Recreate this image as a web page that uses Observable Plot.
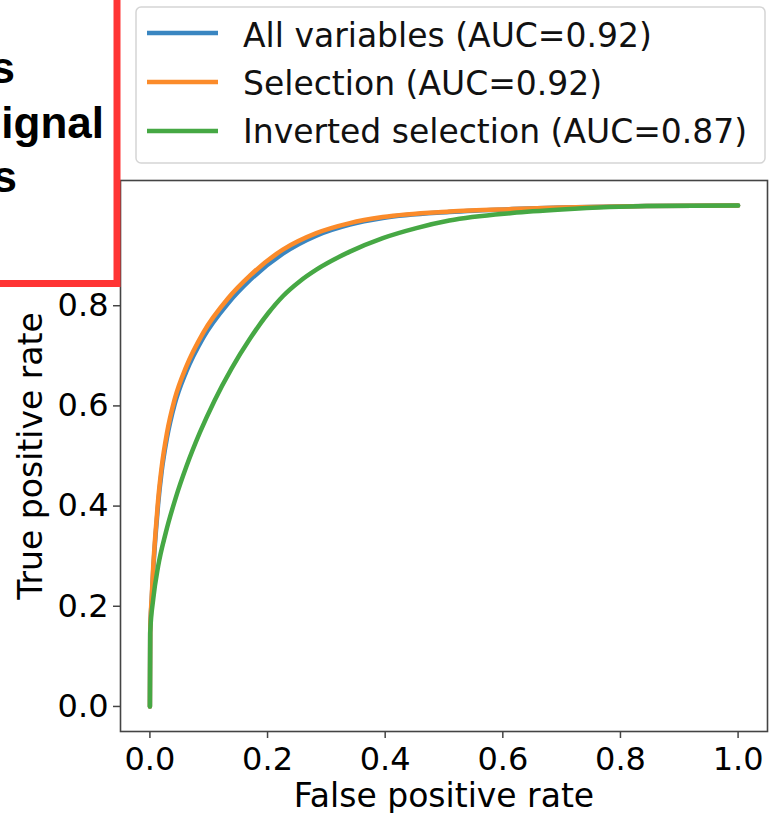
<!DOCTYPE html>
<html>
<head>
<meta charset="utf-8">
<script src="https://cdn.jsdelivr.net/npm/d3@7"></script>
<script src="https://cdn.jsdelivr.net/npm/@observablehq/plot@0.6"></script>
<style>
  body { margin: 0; background: #fff; }
  #wrap { position: relative; width: 772px; height: 813px; overflow: hidden; background: #fff; }
  #wrap > svg { position: absolute; left: 0; top: 0; }
</style>
</head>
<body>
<div id="wrap"></div>
<script>
// ---- Data ----
const seriesNames = ["All variables", "Selection", "Inverted selection"];
const seriesAUC = [0.92, 0.92, 0.87];
const seriesColors = ["#3a86c1", "#fb8b2a", "#46a844"];

const fprAll = [0, 0.0005, 0.003, 0.0056, 0.0097, 0.014, 0.020, 0.029, 0.042, 0.062, 0.0905, 0.133, 0.170, 0.226, 0.283, 0.34, 0.396, 0.509, 0.616, 0.7, 0.844, 1.0];
const tprAll = [0, 0.145, 0.212, 0.271, 0.342, 0.404, 0.469, 0.536, 0.603, 0.669, 0.736, 0.805, 0.851, 0.904, 0.940, 0.962, 0.975, 0.987, 0.993, 0.996, 0.999, 1.0];

const fprSel = [0, 0.0005, 0.003, 0.0056, 0.0097, 0.014, 0.020, 0.029, 0.042, 0.062, 0.0905, 0.133, 0.170, 0.226, 0.283, 0.34, 0.396, 0.509, 0.616, 0.7, 0.844, 1.0];
const tprSel = [0, 0.148, 0.218, 0.278, 0.350, 0.413, 0.478, 0.546, 0.613, 0.679, 0.746, 0.815, 0.860, 0.912, 0.945, 0.965, 0.977, 0.988, 0.993, 0.996, 0.999, 1.0];

const fprInv = [0, 0.0005, 0.0056, 0.014, 0.027, 0.044, 0.062, 0.085, 0.110, 0.139, 0.170, 0.201, 0.226, 0.255, 0.283, 0.34, 0.396, 0.453, 0.509, 0.616, 0.7, 0.844, 1.0];
const tprInv = [0, 0.148, 0.214, 0.28, 0.347, 0.417, 0.479, 0.547, 0.611, 0.675, 0.734, 0.785, 0.819, 0.849, 0.872, 0.908, 0.935, 0.955, 0.97, 0.985, 0.992, 0.999, 1.0];

const xTicks = [0, 0.2, 0.4, 0.6, 0.8, 1.0];
const yTicks = [0, 0.2, 0.4, 0.6, 0.8, 1.0];
const xLabel = "False positive rate";
const yLabel = "True positive rate";
const boxLines = ["s", "ignal", "s"];

// ---- Build table ----
const fprs = [fprAll, fprSel, fprInv];
const tprs = [tprAll, tprSel, tprInv];
const rows = [];
seriesNames.forEach((name, i) => {
  fprs[i].forEach((f, j) => rows.push({series: name, fpr: f, tpr: tprs[i][j]}));
});

const fmt = d3.format(".1f");
const font = '"DejaVu Sans", sans-serif';

const chart = Plot.plot({
  width: 772,
  height: 813,
  marginLeft: 120,
  marginRight: 5,
  marginTop: 180,
  marginBottom: 82,
  style: {fontFamily: font, fontSize: "32px", background: "transparent", color: "#000", overflow: "visible"},
  x: {domain: [-0.05, 1.05]},
  y: {domain: [-0.05, 1.05]},
  color: {domain: seriesNames, range: seriesColors},
  marks: [
    Plot.axisX({ticks: xTicks, tickFormat: fmt, tickSize: 7, tickPadding: 9, stroke: "#444", strokeWidth: 1.5, label: null}),
    Plot.axisY({ticks: yTicks, tickFormat: fmt, tickSize: 7, tickPadding: 5, stroke: "#444", strokeWidth: 1.5, label: null}),
    Plot.line(rows, {x: "fpr", y: "tpr", z: "series", stroke: "series", strokeWidth: 4.5, curve: "monotone-x"}),
    Plot.frame({stroke: "#444", strokeWidth: 1.6}),
    Plot.text([xLabel], {frameAnchor: "bottom", textAnchor: "middle", dy: 75, lineAnchor: "bottom", fontSize: 33, fill: "#000", text: d => d}),
    Plot.text([yLabel], {frameAnchor: "left", textAnchor: "middle", dx: -79, rotate: -90, lineAnchor: "bottom", fontSize: 33, fill: "#000", text: d => d})
  ]
});
document.getElementById("wrap").appendChild(chart);

// ---- Overlay: legend and red annotation box ----
const ov = d3.select("#wrap").append("svg")
  .attr("width", 772).attr("height", 813)
  .style("pointer-events", "none");

// red box
ov.append("rect")
  .attr("x", -20).attr("y", -20)
  .attr("width", 137).attr("height", 303.5)
  .attr("fill", "#fff")
  .attr("stroke", "#ff3434")
  .attr("stroke-width", 7);
const boxPos = [[15, 83], [104, 138], [17, 192]];
boxLines.forEach((t, i) => {
  ov.append("text")
    .attr("x", boxPos[i][0]).attr("y", boxPos[i][1])
    .attr("text-anchor", "end")
    .attr("font-family", '"Liberation Sans", Arial, sans-serif')
    .attr("font-weight", "bold")
    .attr("font-size", 44)
    .attr("fill", "#000")
    .text(t);
});

// legend
const lg = ov.append("g");
lg.append("rect")
  .attr("x", 136).attr("y", 7)
  .attr("width", 629).attr("height", 156)
  .attr("rx", 5)
  .attr("fill", "rgba(255,255,255,0.85)")
  .attr("stroke", "#d5d5d5")
  .attr("stroke-width", 1.5);
seriesNames.forEach((name, i) => {
  lg.append("line")
    .attr("x1", 147).attr("x2", 218)
    .attr("y1", 33 + i * 49).attr("y2", 33 + i * 49)
    .attr("stroke", seriesColors[i])
    .attr("stroke-width", 4.5);
  lg.append("text")
    .attr("x", 243).attr("y", 47 + i * 48)
    .attr("font-family", font)
    .attr("font-size", 33)
    .attr("fill", "#111")
    .text(`${name} (AUC=${seriesAUC[i].toFixed(2)})`);
});
</script>
</body>
</html>
